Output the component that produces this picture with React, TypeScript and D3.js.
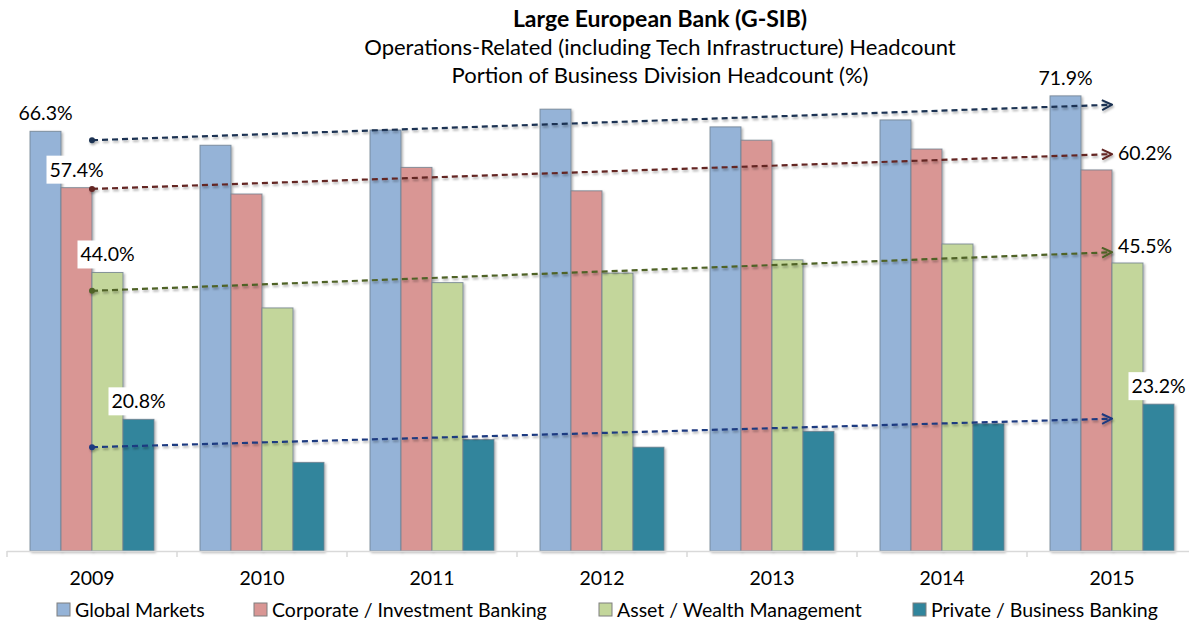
import React, { useEffect } from 'react';
import * as d3 from 'd3';

const years = ['2009', '2010', '2011', '2012', '2013', '2014', '2015'];
const seriesNames = [
  'Global Markets',
  'Corporate / Investment Banking',
  'Asset / Wealth Management',
  'Private / Business Banking',
];
const globalMarkets = [66.3, 64.1, 66.5, 69.8, 67.0, 68.1, 71.9];
const corporateInvestment = [57.4, 56.4, 60.6, 56.9, 64.9, 63.5, 60.2];
const assetWealth = [44.0, 38.4, 42.4, 43.9, 46.0, 48.5, 45.5];
const privateBusiness = [20.8, 14.0, 17.6, 16.4, 18.9, 20.1, 23.2];
// trend arrows: value at 2009 center and 2015 center
const trendStart = [64.9, 57.2, 41.1, 16.4];
const trendEnd = [70.5, 62.7, 47.2, 20.9];
// data labels shown above bars: [seriesIndex, yearIndex]
const barLabels: [number, number][] = [
  [0, 0], [1, 0], [2, 0], [3, 0], [0, 6], [3, 6],
];
// labels shown at arrow ends: seriesIndex
const arrowLabels = [1, 2];
const titleLines = [
  'Large European Bank (G-SIB)',
  'Operations-Related (including Tech Infrastructure) Headcount',
  'Portion of Business Division Headcount (%)',
];

const seriesValues = [globalMarkets, corporateInvestment, assetWealth, privateBusiness];
const fills = ['#95b3d7', '#d99694', '#c3d69b', '#31859c'];
const lineColors = ['#1c3352', '#632523', '#4f6228', '#1f3a80'];

const W = 1189;
const H = 622;
const FONT = 'Lato, "Open Sans", sans-serif';

export default function App() {
  useEffect(() => {
    document.body.style.margin = '0';
  }, []);

  const x = d3.scaleBand<string>().domain(years).range([7, 1197]).padding(0);
  const xs = d3.scaleBand<string>().domain(seriesNames).range([23, 147]).padding(0);
  const y = d3.scaleLinear().domain([0, 80]).range([551, 551 - 80 * 6.33]);

  const fmt = (v: number) => v.toFixed(1) + '%';
  const cx = (i: number) => (x(years[i]) as number) + x.bandwidth() / 2;

  return (
    <svg width={W} height={H} style={{ display: 'block', background: '#fff' }} fontFamily={FONT}>
      <defs>
        <filter id="shadow" x="-20%" y="-20%" width="140%" height="140%">
          <feDropShadow dx="1.5" dy="1.5" stdDeviation="1.2" floodColor="#000" floodOpacity="0.3" />
        </filter>
        <filter id="lshadow" x="-5%" y="-50%" width="110%" height="200%">
          <feDropShadow dx="1" dy="2" stdDeviation="1.2" floodColor="#000" floodOpacity="0.3" />
        </filter>
        {lineColors.map((c, i) => (
          <marker key={i} id={`arrow${i}`} viewBox="0 0 12 12" refX="11" refY="6"
            markerWidth="12" markerHeight="12" markerUnits="userSpaceOnUse" orient="auto">
            <path d="M1,1 L11,6 L1,11" fill="none" stroke={c} strokeWidth="2" />
          </marker>
        ))}
      </defs>

      {/* titles */}
      <text x={660} y={27} textAnchor="middle" fontSize={23} fontWeight="bold" fill="#000">{titleLines[0]}</text>
      <text x={660} y={55} textAnchor="middle" fontSize={22} fill="#000">{titleLines[1]}</text>
      <text x={660} y={83} textAnchor="middle" fontSize={22} fill="#000">{titleLines[2]}</text>

      {/* bars */}
      {years.map((yr, i) => (
        <g key={yr} transform={`translate(${x(yr)},0)`}>
          {seriesNames.map((s, k) => (
            <rect key={s} x={xs(s)} width={xs.bandwidth()} y={y(seriesValues[k][i])}
              height={y(0) - y(seriesValues[k][i])} fill={fills[k]} stroke="#6f7f8f"
              strokeOpacity={0.8} strokeWidth={1} filter="url(#shadow)" />
          ))}
        </g>
      ))}

      {/* axis */}
      <line x1={7} x2={1189} y1={551.5} y2={551.5} stroke="#d9d9d9" strokeWidth={1.5} />
      {d3.range(years.length + 1).map((i) => {
        const tx = 7 + i * x.step();
        return <line key={i} x1={tx} x2={tx} y1={551} y2={557} stroke="#d9d9d9" strokeWidth={1.5} />;
      })}
      {years.map((yr, i) => (
        <text key={yr} x={cx(i)} y={585} textAnchor="middle" fontSize={19.5} fill="#000">{yr}</text>
      ))}

      {/* trend arrows */}
      {trendStart.map((v, k) => (
        <g key={k} filter="url(#lshadow)">
          <line x1={cx(0)} y1={y(v)} x2={cx(6)} y2={y(trendEnd[k])} stroke={lineColors[k]}
            strokeWidth={2.2} strokeDasharray="6 4" markerEnd={`url(#arrow${k})`} />
          <circle cx={cx(0)} cy={y(v)} r={3} fill={lineColors[k]} />
        </g>
      ))}

      {/* bar labels */}
      {barLabels.map(([k, i]) => {
        const lx = (x(years[i]) as number) + (xs(seriesNames[k]) as number) + xs.bandwidth() / 2;
        const ly = y(seriesValues[k][i]) - 11;
        return (
          <g key={`${k}-${i}`}>
            <rect x={lx - 30} y={ly - 21} width={60} height={28} fill="#fff" />
            <text x={lx} y={ly} textAnchor="middle" fontSize={19.5} fill="#000">{fmt(seriesValues[k][i])}</text>
          </g>
        );
      })}
      {arrowLabels.map((k) => {
        const lx = cx(6) + 6;
        const ly = y(trendEnd[k]) + (k === 1 ? 6 : 1);
        return (
          <g key={`a${k}`}>
            <rect x={lx - 2} y={ly - 21} width={60} height={28} fill="#fff" />
            <text x={lx} y={ly} fontSize={19.5} fill="#000">{fmt(seriesValues[k][6])}</text>
          </g>
        );
      })}

      {/* legend */}
      {seriesNames.map((s, k) => {
        const lx = [57, 254, 599, 913][k];
        return (
          <g key={s}>
            <rect x={lx} y={603} width={13} height={13} fill={fills[k]} stroke="#7f7f7f" strokeWidth={1} />
            <text x={lx + 18} y={617} fontSize={19.5} fill="#000">{s}</text>
          </g>
        );
      })}
    </svg>
  );
}
